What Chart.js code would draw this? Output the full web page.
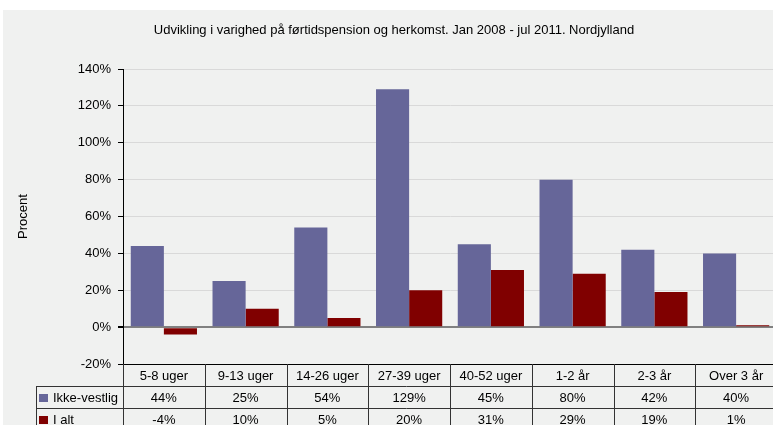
<!DOCTYPE html>
<html>
<head>
<meta charset="utf-8">
<script src="https://cdn.jsdelivr.net/npm/chart.js@4"></script>
<style>
  html, body { margin: 0; padding: 0; background: #fff; overflow: hidden; }
  #wrap { position: relative; width: 780px; height: 425px; }
</style>
</head>
<body>
<div id="wrap"><canvas id="chart"></canvas></div>
<script>
// data
const categories = ['5-8 uger', '9-13 uger', '14-26 uger', '27-39 uger', '40-52 uger', '1-2 år', '2-3 år', 'Over 3 år'];
const ikkeVestlig = [44, 25, 54, 129, 45, 80, 42, 40];
const iAlt = [-4, 10, 5, 20, 31, 29, 19, 1];
const yTicks = [-20, 0, 20, 40, 60, 80, 100, 120, 140];

const FONT = '"Liberation Sans", Arial, sans-serif';
const BLUE = '#666699';
const RED = '#800000';

// grey panel behind everything
const panelPlugin = {
    id: 'panel',
    beforeDraw: (chart) => {
        const ctx = chart.ctx;
        ctx.save();
        ctx.fillStyle = '#f0f1f0';
        ctx.fillRect(3, 10, chart.width - 3, chart.height - 10);
        ctx.fillStyle = '#000';
        ctx.font = '13px ' + FONT;
        ctx.textAlign = 'center';
        ctx.textBaseline = 'middle';
        ctx.fillText('Udvikling i varighed på førtidspension og herkomst. Jan 2008 - jul 2011. Nordjylland', 394, 30);
        ctx.restore();
    }
};

// data table under the x axis
const tablePlugin = {
    id: 'dataTable',
    afterDraw: (chart) => {
        const ctx = chart.ctx;
        const area = chart.chartArea;
        const x = chart.scales.x;
        const cw = (area.right - area.left) / categories.length;
        const top = area.bottom;
        const rowH = 22;
        const legendLeft = 36;
        const bottom = chart.height + 5;

        ctx.save();
        ctx.strokeStyle = '#333';
        ctx.lineWidth = 1;
        ctx.beginPath();
        for (let i = 0; i <= categories.length; i++) {
            const xb = Math.round(area.left + i * cw) + 0.5;
            ctx.moveTo(xb, top);
            ctx.lineTo(xb, bottom);
        }
        ctx.moveTo(legendLeft + 0.5, top + rowH);
        ctx.lineTo(legendLeft + 0.5, bottom);
        ctx.moveTo(legendLeft, top + rowH + 0.5);
        ctx.lineTo(area.right, top + rowH + 0.5);
        ctx.moveTo(legendLeft, top + 2 * rowH + 0.5);
        ctx.lineTo(area.right, top + 2 * rowH + 0.5);
        ctx.stroke();

        ctx.fillStyle = '#000';
        ctx.font = '13px ' + FONT;
        ctx.textAlign = 'center';
        ctx.textBaseline = 'middle';
        categories.forEach((c, i) => {
            const cx = x.getPixelForValue(i);
            ctx.fillText(c, cx, top + rowH / 2 + 1);
            ctx.fillText(ikkeVestlig[i] + '%', cx, top + rowH * 1.5 + 1);
            ctx.fillText(iAlt[i] + '%', cx, top + rowH * 2.5 + 1);
        });

        const series = [['Ikke-vestlig', BLUE], ['I alt', RED]];
        series.forEach(([label, color], r) => {
            const cy = top + rowH * (1.5 + r) + 1;
            ctx.fillStyle = color;
            ctx.fillRect(legendLeft + 3, cy - 4, 9, 8);
            ctx.fillStyle = '#000';
            ctx.textAlign = 'left';
            ctx.fillText(label, legendLeft + 17, cy);
        });
        ctx.restore();
    }
};

new Chart(document.getElementById('chart'), {
    type: 'bar',
    data: {
        labels: categories,
        datasets: [
            { label: 'Ikke-vestlig', data: ikkeVestlig, backgroundColor: BLUE },
            { label: 'I alt', data: iAlt, backgroundColor: RED }
        ]
    },
    options: {
        responsive: true,
        maintainAspectRatio: false,
        animation: false,
        categoryPercentage: 0.81,
        barPercentage: 1,
        layout: { padding: { top: 69, left: 0, right: 3, bottom: 0 } },
        plugins: {
            legend: { display: false },
            tooltip: { enabled: false }
        },
        scales: {
            x: {
                ticks: { display: false },
                grid: { display: false },
                border: { display: true, color: '#000', width: 1 },
                afterFit: (scale) => { scale.height = 61; }
            },
            y: {
                min: yTicks[0],
                max: yTicks[yTicks.length - 1],
                afterBuildTicks: (scale) => { scale.ticks = yTicks.map(v => ({ value: v })); },
                ticks: {
                    color: '#000',
                    font: { family: FONT, size: 13 },
                    padding: 7,
                    callback: (v) => v + '%'
                },
                grid: {
                    color: (c) => c.tick && c.tick.value === 0 ? '#808080' : '#d9d9d9',
                    lineWidth: (c) => c.tick && c.tick.value === 0 ? 2 : 1,
                    tickColor: '#000',
                    tickLength: 5
                },
                border: { display: true, color: '#000', width: 1 },
                title: {
                    display: true,
                    text: 'Procent',
                    color: '#000',
                    font: { family: FONT, size: 13 },
                    padding: { top: 16 }
                },
                afterFit: (scale) => { scale.width = 123; }
            }
        }
    },
    plugins: [panelPlugin, tablePlugin]
});
</script>
</body>
</html>
